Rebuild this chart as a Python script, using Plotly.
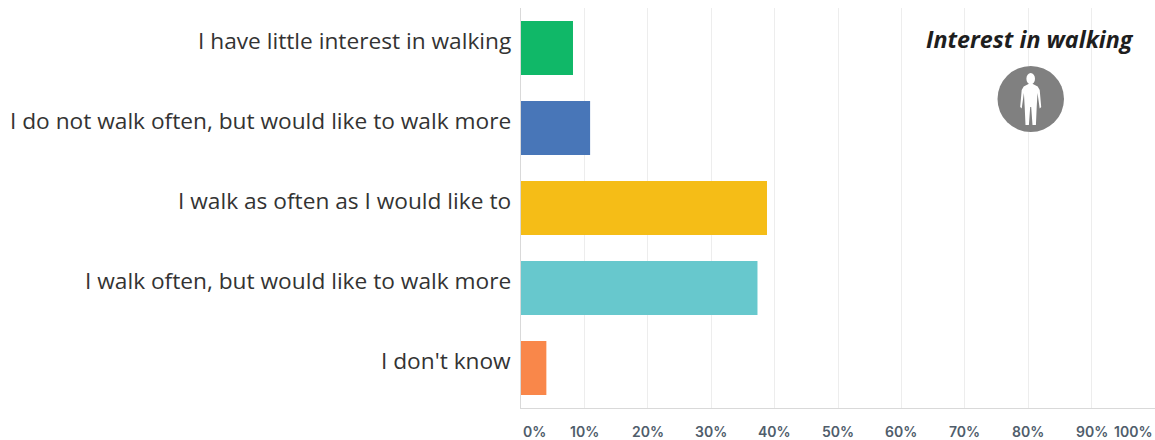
import plotly.graph_objects as go

categories = [
    "I have little interest in walking",
    "I do not walk often, but would like to walk more",
    "I walk as often as I would like to",
    "I walk often, but would like to walk more",
    "I don't know",
]
shares = [8.2, 10.9, 38.8, 37.3, 4.0]
bar_colors = ["#10B868", "#4876B8", "#F5BD17", "#67C8CD", "#F9874A"]
tick_values = [0, 10, 20, 30, 40, 50, 60, 70, 80, 90, 100]
tick_labels = [f"{v}%" for v in tick_values]

W, H = 1155, 440
LEFT, TOP, BOTTOM = 521, 8, 32


def px(x):
    # Screen x to paper fraction of the plot area
    return (x - LEFT) / (W - LEFT)


def py(y):
    # Screen y to paper fraction of the plot area
    return 1 - (y - TOP) / (H - TOP - BOTTOM)


def person_path(cx, top):
    # Standing figure outline, offsets in screen pixels from the head's top centre
    pts = [(-2.2, 11), (-7, 13.5), (-9, 17), (-10.5, 34), (-9, 35.5), (-6.8, 20),
           (-6, 34), (-5.2, 52), (-1.8, 52), (-0.5, 34), (0.5, 34), (1.8, 52),
           (5.2, 52), (6, 34), (6.8, 20), (9, 35.5), (10.5, 34), (9, 17),
           (7, 13.5), (2.2, 11)]
    first = pts[0]
    d = f"M{px(cx + first[0]):.5f},{py(top + first[1]):.5f}"
    for dx, dy in pts[1:]:
        d += f" L{px(cx + dx):.5f},{py(top + dy):.5f}"
    return d + " Z"


fig = go.Figure(
    go.Bar(
        y=categories,
        x=shares,
        orientation="h",
        marker=dict(color=bar_colors, line_width=0),
        width=0.675,
        hoverinfo="skip",
    )
)

annotations = []
for value, label in zip(tick_values, tick_labels):
    anchor = "left" if value == 0 else "right" if value == 100 else "center"
    annotations.append(
        dict(
            x=value - 0.1 if value == 100 else value,
            y=py(431),
            xref="x",
            yref="paper",
            text=label,
            showarrow=False,
            xanchor=anchor,
            yanchor="middle",
            font=dict(family="Inter", size=14, color="#4F5D6B", weight=600),
        )
    )
# Category labels sit slightly above their bars, so they are placed by hand
for category in categories:
    annotations.append(
        dict(
            x=px(513),
            y=category,
            xref="paper",
            yref="y",
            yshift=7.5,
            text=category,
            showarrow=False,
            xanchor="right",
            yanchor="middle",
            font=dict(family="Open Sans", size=22.7, color="#333333"),
        )
    )
annotations.append(
    dict(
        x=px(1030),
        y=py(39),
        xref="paper",
        yref="paper",
        text="<b><i>Interest in walking</i></b>",
        showarrow=False,
        xanchor="center",
        yanchor="middle",
        font=dict(family="Open Sans", size=23.3, color="#1E1E1E"),
    )
)

shapes = [
    dict(type="circle", xref="paper", yref="paper",
         x0=px(997.5), x1=px(1064), y0=py(132), y1=py(66),
         fillcolor="#808080", line_width=0),
    dict(type="circle", xref="paper", yref="paper",
         x0=px(1026.4), x1=px(1035), y0=py(84.5), y1=py(73),
         fillcolor="white", line_width=0),
    dict(type="path", xref="paper", yref="paper",
         path=person_path(1030.7, 73), fillcolor="white", line_width=0),
]

fig.update_layout(
    width=W,
    height=H,
    margin=dict(l=LEFT, r=0, t=TOP, b=BOTTOM),
    paper_bgcolor="white",
    plot_bgcolor="white",
    showlegend=False,
    annotations=annotations,
    shapes=shapes,
    xaxis=dict(
        range=[0, 100],
        tickvals=tick_values,
        showticklabels=False,
        showgrid=True,
        gridcolor="#EDEDED",
        gridwidth=1,
        zeroline=False,
        showline=True,
        linecolor="#D9D9D9",
        linewidth=1,
        ticks="",
    ),
    yaxis=dict(
        categoryorder="array",
        categoryarray=categories,
        autorange="reversed",
        showticklabels=False,
        showgrid=False,
        zeroline=False,
        showline=True,
        linecolor="#D9D9D9",
        linewidth=1,
        ticks="",
    ),
)

fig.write_html("out.html", config=dict(displayModeBar=False))
